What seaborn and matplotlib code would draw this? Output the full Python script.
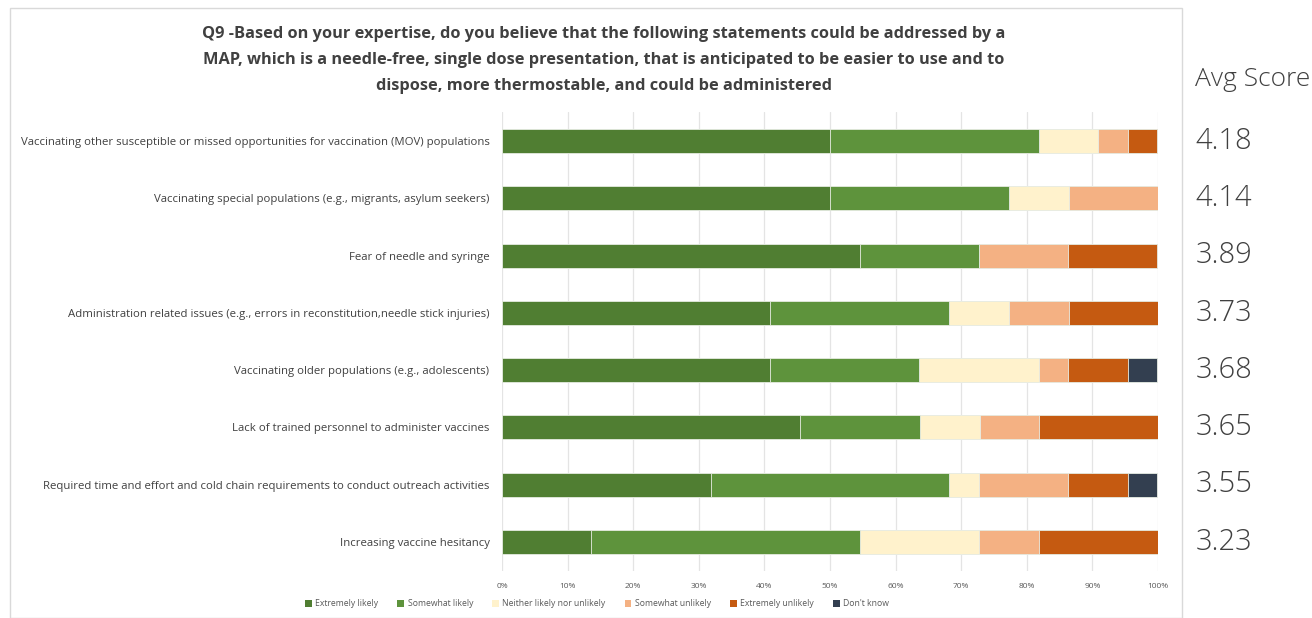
import numpy as np
import pandas as pd
import matplotlib
matplotlib.use("Agg")
import matplotlib.pyplot as plt
from matplotlib.patches import Rectangle, Patch
import seaborn as sns

categories = [
    "Vaccinating other susceptible or missed opportunities for vaccination (MOV) populations",
    "Vaccinating special populations (e.g., migrants, asylum seekers)",
    "Fear of needle and syringe",
    "Administration related issues (e.g., errors in reconstitution,needle stick injuries)",
    "Vaccinating older populations (e.g., adolescents)",
    "Lack of trained personnel to administer vaccines",
    "Required time and effort and cold chain requirements to conduct outreach activities",
    "Increasing vaccine hesitancy",
]
series_names = ["Extremely likely", "Somewhat likely", "Neither likely nor unlikely",
                "Somewhat unlikely", "Extremely unlikely", "Don't know"]
extremely_likely = [50.0, 50.0, 54.5, 40.9, 40.9, 45.5, 31.8, 13.6]
somewhat_likely = [31.8, 27.3, 18.2, 27.3, 22.7, 18.2, 36.4, 40.9]
neither = [9.1, 9.1, 0.0, 9.1, 18.2, 9.1, 4.5, 18.2]
somewhat_unlikely = [4.5, 13.6, 13.6, 9.1, 4.5, 9.1, 13.6, 9.1]
extremely_unlikely = [4.5, 0.0, 13.6, 13.6, 9.1, 18.2, 9.1, 18.2]
dont_know = [0.0, 0.0, 0.0, 0.0, 4.5, 0.0, 4.5, 0.0]
avg_scores = ["4.18", "4.14", "3.89", "3.73", "3.68", "3.65", "3.55", "3.23"]
x_ticks = [0, 10, 20, 30, 40, 50, 60, 70, 80, 90, 100]
title = ("Q9 -Based on your expertise, do you believe that the following statements could be addressed by a\n"
         "MAP, which is a needle-free, single dose presentation, that is anticipated to be easier to use and to\n"
         "dispose, more thermostable, and could be administered")
avg_header = "Avg Score"

colors = ["#507E32", "#5E933C", "#FFF2CC", "#F4B183", "#C55A11", "#333F50"]

series = [extremely_likely, somewhat_likely, neither, somewhat_unlikely, extremely_unlikely, dont_know]
df = pd.DataFrame({name: vals for name, vals in zip(series_names, series)})
df["category"] = categories
cum = df[series_names].cumsum(axis=1)

sns.set_theme(style="white")
plt.rcParams["font.family"] = ["Open Sans", "DejaVu Sans"]

fig = plt.figure(figsize=(13.12, 6.18), dpi=100)
ax = fig.add_axes([502 / 1312, 1 - 570.6 / 618, 656 / 1312, 458.2 / 618])

# draw cumulative totals from the right-most series back to the first
for i in range(len(series_names) - 1, -1, -1):
    plot_df = pd.DataFrame({"category": categories, "value": cum[series_names[i]].values})
    sns.barplot(data=plot_df, x="value", y="category", orient="h", color=colors[i],
                width=0.42, saturation=1, ax=ax, zorder=3,
                edgecolor="#E8EDE4", linewidth=0.6)

ax.set_xlim(0, 100)
ax.set_ylim(7.5, -0.5)
ax.set_xticks(x_ticks)
ax.set_xticklabels([f"{t}%" for t in x_ticks], fontsize=6, color="#595959")
ax.tick_params(axis="x", length=0, pad=9)
ax.tick_params(axis="y", length=0, pad=9)
ax.set_yticks(range(len(categories)))
ax.set_yticklabels(categories, fontsize=8.2, color="#404040")
ax.set_xlabel("")
ax.set_ylabel("")
ax.grid(axis="x", color="#E4E4E4", linewidth=0.9, zorder=0)
for s in ax.spines.values():
    s.set_visible(False)

# chart border
fig.patches.append(Rectangle((10 / 1312, 0), 1172 / 1312, 1 - 8 / 618, transform=fig.transFigure,
                             fill=False, edgecolor="#D9D9D9", linewidth=1))

fig.text(604 / 1312, 1 - 60 / 618, title, ha="center", va="center", fontsize=11.8,
         fontweight="bold", color="#404040", linespacing=1.85)

# avg scores
fig.text(1253 / 1312, 1 - 80 / 618, avg_header, ha="center", va="center", fontsize=19,
         color="#404040", fontweight="light")
for i, s in enumerate(avg_scores):
    y_disp = ax.transData.transform((0, i))[1]
    fig.text(1224 / 1312, y_disp / (6.18 * 100), s, ha="center", va="center", fontsize=21,
             color="#404040", fontweight="light")

handles = [Patch(facecolor=c, edgecolor="none") for c in colors]
fig.legend(handles, series_names, loc="center", bbox_to_anchor=(597 / 1312, 1 - 604 / 618),
           ncol=6, frameon=False, fontsize=6.2, handlelength=0.8, handleheight=0.8,
           columnspacing=2.2, handletextpad=0.4, labelcolor="#595959")

fig.savefig("out.png", dpi=100)
